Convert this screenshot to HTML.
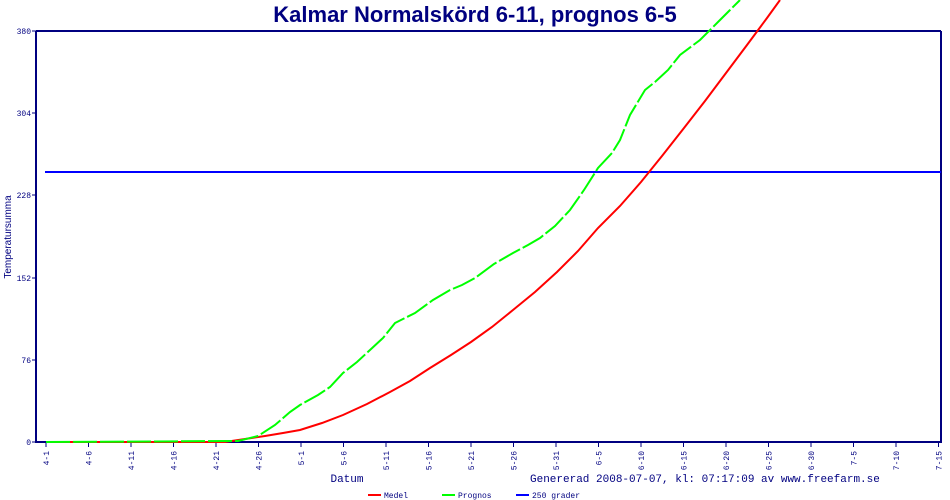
<!DOCTYPE html>
<html><head><meta charset="utf-8"><style>body{margin:0;background:#fff}svg{display:block}</style></head>
<body>
<svg width="950" height="500" xmlns="http://www.w3.org/2000/svg" font-family="Liberation Mono, DejaVu Sans Mono, monospace">
<rect width="950" height="500" fill="#fff"/>
<text x="475" y="22" text-anchor="middle" font-family="Liberation Sans, sans-serif" font-weight="bold" font-size="22" fill="#000080">Kalmar Normalskörd 6-11, prognos 6-5</text>
<g stroke="#000080" stroke-width="2" fill="none">
<line x1="36" y1="31" x2="36" y2="443"/>
<line x1="36" y1="31" x2="941" y2="31"/>
<line x1="941" y1="31" x2="941" y2="443"/>
<line x1="36" y1="442" x2="941" y2="442"/>
</g>
<g stroke="#000080" stroke-width="1">
<line x1="32" y1="31" x2="36" y2="31"/><line x1="32" y1="113" x2="36" y2="113"/><line x1="32" y1="195" x2="36" y2="195"/><line x1="32" y1="278" x2="36" y2="278"/><line x1="32" y1="360" x2="36" y2="360"/><line x1="32" y1="442" x2="36" y2="442"/>
</g>
<g font-size="8" fill="#000080" text-anchor="end">
<text x="31" y="34">380</text><text x="31" y="116">304</text><text x="31" y="198">228</text><text x="31" y="281">152</text><text x="31" y="363">76</text><text x="31" y="445">0</text>
</g>
<text transform="translate(11,237) rotate(-90)" text-anchor="middle" font-family="Liberation Sans, sans-serif" font-size="10" fill="#000080">Temperatursumma</text>
<g id="xt" stroke="#000080" stroke-width="1">
</g>
<g font-size="8" fill="#000080" text-anchor="end">
<script>/*noop*/</script>
</g>
<g stroke="#000080">
<line x1="46" y1="442" x2="46" y2="447"/><line x1="88.5" y1="442" x2="88.5" y2="447"/><line x1="131" y1="442" x2="131" y2="447"/><line x1="173.5" y1="442" x2="173.5" y2="447"/><line x1="216" y1="442" x2="216" y2="447"/><line x1="258.5" y1="442" x2="258.5" y2="447"/><line x1="301" y1="442" x2="301" y2="447"/><line x1="343.5" y1="442" x2="343.5" y2="447"/><line x1="386" y1="442" x2="386" y2="447"/><line x1="428.5" y1="442" x2="428.5" y2="447"/><line x1="471" y1="442" x2="471" y2="447"/><line x1="513.5" y1="442" x2="513.5" y2="447"/><line x1="556" y1="442" x2="556" y2="447"/><line x1="598.5" y1="442" x2="598.5" y2="447"/><line x1="641" y1="442" x2="641" y2="447"/><line x1="683.5" y1="442" x2="683.5" y2="447"/><line x1="726" y1="442" x2="726" y2="447"/><line x1="768.5" y1="442" x2="768.5" y2="447"/><line x1="811" y1="442" x2="811" y2="447"/><line x1="853.5" y1="442" x2="853.5" y2="447"/><line x1="896" y1="442" x2="896" y2="447"/><line x1="938.5" y1="442" x2="938.5" y2="447"/>
</g>
<g font-size="8" fill="#000080" text-anchor="end">
<text transform="translate(49,451) rotate(-90)">4-1</text>
<text transform="translate(91.5,451) rotate(-90)">4-6</text>
<text transform="translate(134,451) rotate(-90)">4-11</text>
<text transform="translate(176.5,451) rotate(-90)">4-16</text>
<text transform="translate(219,451) rotate(-90)">4-21</text>
<text transform="translate(261.5,451) rotate(-90)">4-26</text>
<text transform="translate(304,451) rotate(-90)">5-1</text>
<text transform="translate(346.5,451) rotate(-90)">5-6</text>
<text transform="translate(389,451) rotate(-90)">5-11</text>
<text transform="translate(431.5,451) rotate(-90)">5-16</text>
<text transform="translate(474,451) rotate(-90)">5-21</text>
<text transform="translate(516.5,451) rotate(-90)">5-26</text>
<text transform="translate(559,451) rotate(-90)">5-31</text>
<text transform="translate(601.5,451) rotate(-90)">6-5</text>
<text transform="translate(644,451) rotate(-90)">6-10</text>
<text transform="translate(686.5,451) rotate(-90)">6-15</text>
<text transform="translate(729,451) rotate(-90)">6-20</text>
<text transform="translate(771.5,451) rotate(-90)">6-25</text>
<text transform="translate(814,451) rotate(-90)">6-30</text>
<text transform="translate(856.5,451) rotate(-90)">7-5</text>
<text transform="translate(899,451) rotate(-90)">7-10</text>
<text transform="translate(941.5,451) rotate(-90)">7-15</text>
</g>
<text x="347" y="482" text-anchor="middle" font-size="11" fill="#000080">Datum</text>
<text x="530" y="482" font-size="11" fill="#000080">Genererad 2008-07-07, kl: 07:17:09 av www.freefarm.se</text>
<line x1="45" y1="172" x2="941" y2="172" stroke="#0000ff" stroke-width="2"/>
<polyline fill="none" stroke="#ff0000" stroke-width="2" points="46,442 225,442 245,439 265,436 283,433 300,430 322,423 343,415 367,404 390,392 410,381 430,368 451,355 471,342 492,327 513,310 535,292 557,272 578,251 598,228 620,206 641,182 662,156 684,128 705,101 726,73 747,45 767,18 780,0"/>
<polyline fill="none" stroke="#00ff00" stroke-width="2" stroke-dasharray="24,3" points="46,442 238,441 258,436 275,425 290,412 300,405 318,395 330,387 343,373 357,362 370,350 383,338 395,323 415,313 433,300 450,290 462,285 475,278 494,264 513,253 528,245 540,238 555,226 570,210 584,190 598,168 612,153 620,140 630,115 645,90 655,82 668,70 680,55 700,40 712,28 720,20 730,10 740,0"/>
<line x1="368" y1="495" x2="381" y2="495" stroke="#ff0000" stroke-width="2"/>
<text x="384" y="498" font-size="8" fill="#000080">Medel</text>
<line x1="442" y1="495" x2="455" y2="495" stroke="#00ff00" stroke-width="2"/>
<text x="458" y="498" font-size="8" fill="#000080">Prognos</text>
<line x1="516" y1="495" x2="529" y2="495" stroke="#0000ff" stroke-width="2"/>
<text x="532" y="498" font-size="8" fill="#000080">250 grader</text>
</svg>
</body></html>
